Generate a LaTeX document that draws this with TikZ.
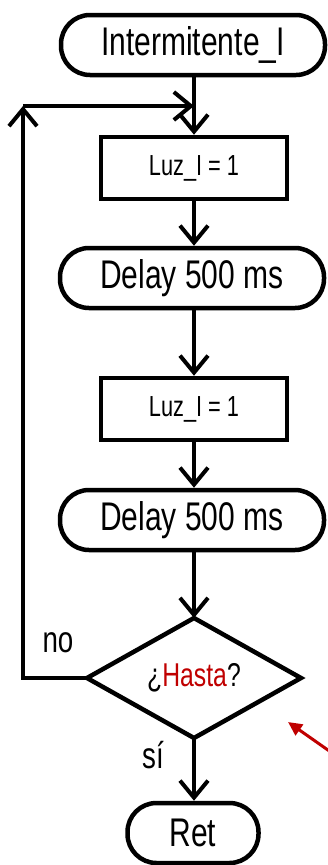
\documentclass[tikz,border=0pt]{standalone}
\usepackage{fontspec}
\setmainfont[FakeStretch=0.75]{Liberation Sans}
\usetikzlibrary{arrows.meta}
\definecolor{darkred}{RGB}{192,0,0}
\tikzset{
  term/.style={draw, line width=4.5pt, rounded corners=29pt, minimum height=60pt, inner sep=0pt, font=\fontsize{40}{44}\selectfont},
  procbox/.style={draw, line width=4.5pt, minimum width=186pt, minimum height=62pt, inner sep=0pt, font=\fontsize{29}{32}\selectfont},
  decide/.style={draw, line width=4.5pt, inner sep=0pt},
  flow/.style={line width=4pt, -{Straight Barb[length=17pt,width=28pt,line width=4pt]}},
  plain/.style={line width=4pt},
  lbl/.style={font=\fontsize{37}{40}\selectfont, inner sep=0pt},
  pointer/.style={darkred, line width=3pt, -{Triangle[length=14pt,width=13pt]}}
}
\begin{document}
\begin{tikzpicture}[x=1pt,y=-1pt]
\useasboundingbox (0,0) rectangle (327,865);
% main column
\node[term, minimum width=264pt] (start) at (193,45) {Intermitente\_I};
\node[procbox] (luz1) at (194,168) {Luz\_I = 1};
\node[term, minimum width=264pt] (delay1) at (192,278) {Delay 500 ms};
\node[procbox] (luz2) at (194,409) {Luz\_I = 1};
\node[term, minimum width=264pt] (delay2) at (192,520) {Delay 500 ms};
% decision diamond
\coordinate (dc) at (194,678);
\draw[decide] (194,618) coordinate (dtop) -- (301,678) coordinate (dright)
  -- (194,738) coordinate (dbot) -- (87,678) coordinate (dleft) -- cycle;
\node[font=\fontsize{33}{36}\selectfont, inner sep=0pt] (q) at (dc) {¿\textcolor{darkred}{Hasta}?};
\node[term, minimum width=131pt] (ret) at (193,833) {Ret};
% connectors
\coordinate (join) at (194,106);
\coordinate (corner) at (23,106);
\draw[plain] (start.south -| join) -- (join);
\draw[flow] (join) -- (luz1.north);
\draw[flow] (luz1.south) -- (luz1.south |- delay1.north);
\draw[flow] (luz1.south |- delay1.south) -- (luz2.north);
\draw[flow] (luz2.south) -- (luz2.south |- delay2.north);
\draw[flow] (luz2.south |- delay2.south) -- (dtop);
\draw[flow] (dbot) -- (dbot |- ret.north);
% loop back
\draw[flow] (dleft) -| (corner);
\draw[flow] (corner) -- (join);
% labels
\node[lbl] (no) at (58,643) {no};
\node[lbl] (si) at (153,755) {sí};
% pointer arrow
\coordinate (ptail) at (345,762);
\coordinate (ptip) at (288,722);
\draw[pointer] (ptail) -- (ptip);
\end{tikzpicture}
\end{document}
